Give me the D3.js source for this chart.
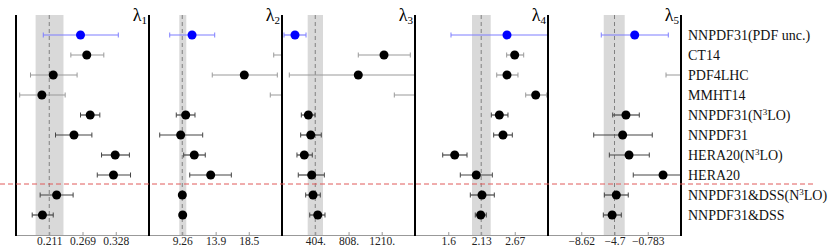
<!DOCTYPE html>
<html>
<head>
<meta charset="utf-8">
<script src="https://cdn.jsdelivr.net/npm/d3@7"></script>
<style>
  body { margin: 0; background: #fff; }
  text { font-family: "Liberation Serif", "DejaVu Serif", serif; }
</style>
</head>
<body>
<div class="chart"></div>
<script>
var svgWidth = 830;
var svgHeight = 252;

// fit names, top to bottom
var models = ["NNPDF31(PDF unc.)", "CT14", "PDF4LHC", "MMHT14", "NNPDF31(N3LO)", "NNPDF31",
  "HERA20(N3LO)", "HERA20", "NNPDF31&DSS(N3LO)", "NNPDF31&DSS"];

// [central, low, high] for each model
var lambda1 = [[0.266, 0.2005, 0.3325], [0.277, 0.249, 0.307], [0.218, 0.178, 0.260], [0.198, 0.159, 0.239],
  [0.283, 0.266, 0.300], [0.2545, 0.222, 0.286], [0.327, 0.303, 0.352], [0.324, 0.2955, 0.354],
  [0.224, 0.195, 0.253], [0.199, 0.181, 0.218]];
var lambda2 = [[10.62, 7.52, 13.77], [29.0, 21.97, 36.0], [17.88, 13.43, 22.47], [28.0, 21.49, 35.0],
  [9.74, 8.43, 11.03], [9.04, 6.13, 12.10], [10.93, 9.46, 12.46], [13.21, 10.30, 16.08],
  [9.27, 9.10, 9.45], [9.32, 9.12, 9.50]];
var lambda3 = [[158, 25, 292], [1238, 926, 1557], [926, 89, 1763], [1800, 1363, 2240],
  [320, 235, 401], [349, 227, 477], [271, 182, 368], [361, 198, 514],
  [377, 288, 465], [434, 337, 522]];
var lambda4 = [[2.545, 1.644, 3.446], [2.669, 2.540, 2.814], [2.545, 2.380, 2.722], [3.007, 2.846, 3.184],
  [2.422, 2.293, 2.561], [2.481, 2.331, 2.631], [1.704, 1.511, 1.902], [2.051, 1.794, 2.309],
  [2.143, 1.955, 2.341], [2.122, 2.035, 2.212]];
var lambda5 = [[-2.32, -6.26, 1.64], [12.0, 9.0, 15.0], [5.0, 1.37, 9.0], [14.0, 11.0, 17.0],
  [-3.35, -4.91, -1.78], [-3.74, -7.15, -0.25], [-2.99, -5.31, -0.60], [1.02, -2.49, 4.5],
  [-4.49, -5.90, -3.08], [-4.98, -6.02, -3.90]];

var lambdaData = [lambda1, lambda2, lambda3, lambda4, lambda5];
var centers = [0.211, 9.26, 404, 2.13, -4.7];
var bands = [[0.187, 0.236], [8.85, 9.82], [312, 498], [1.982, 2.283], [-5.97, -3.50]];
var domains = [[0.1525, 0.3865], [4.64, 23.12], [0.5, 1614], [1.065, 3.205], [-12.54, 3.137]];
var tickValues = [[0.211, 0.2695, 0.328], [9.26, 13.9, 18.5], [404, 808, 1210], [1.6, 2.13, 2.67], [-8.62, -4.7, -0.783]];
var tickLabels = [["0.211", "0.269", "0.328"], ["9.26", "13.9", "18.5"], ["404.", "808.", "1210."],
  ["1.6", "2.13", "2.67"], ["\u22128.62", "\u22124.7", "\u22120.783"]];

var left0 = 16, panelW = 133, topY = 15, bottomY = 235;

var svg = d3.select(".chart")
  .append("svg")
  .attr("width", svgWidth)
  .attr("height", svgHeight);

var y = d3.scalePoint().domain(models).range([35, 215]);

lambdaData.forEach(function (data, i) {
  var x0 = left0 + i * panelW;
  var x = d3.scaleLinear().domain(domains[i]).range([x0, x0 + panelW]);

  svg.append("clipPath").attr("id", "clip" + i)
    .append("rect").attr("x", x0).attr("y", 0).attr("width", panelW).attr("height", svgHeight);

  var g = svg.append("g").attr("clip-path", "url(#clip" + i + ")");

  // uncertainty band and central value
  g.append("rect")
    .attr("x", x(bands[i][0]))
    .attr("y", topY)
    .attr("width", x(bands[i][1]) - x(bands[i][0]))
    .attr("height", bottomY - topY)
    .attr("fill", "#d9d9d9");

  g.append("line")
    .attr("x1", x(centers[i])).attr("x2", x(centers[i]))
    .attr("y1", topY).attr("y2", bottomY)
    .attr("stroke", "#808080")
    .attr("stroke-dasharray", "4,3");

  // axis
  var axis = d3.axisBottom(x)
    .tickValues(tickValues[i])
    .tickFormat(function (d, j) { return tickLabels[i][j]; })
    .tickSizeInner(-3)
    .tickSizeOuter(0)
    .tickPadding(2);
  var ax = svg.append("g")
    .attr("transform", "translate(0," + bottomY + ")")
    .call(axis);
  ax.select(".domain").attr("stroke", "#999");
  ax.selectAll(".tick line").attr("stroke", "#999");
  ax.selectAll(".tick text").attr("font-size", 11.5).attr("fill", "#222")
    .style("font-family", "'Liberation Serif', serif");

  var colorFor = function (j) {
    if (j === 0) return "#7f7fff";
    if (j <= 3) return "#9a9a9a";
    return "#444";
  };

  var rows = g.selectAll(".row")
    .data(data)
    .enter()
    .append("g")
    .attr("transform", function (d, j) { return "translate(0," + y(models[j]) + ")"; });

  rows.append("line")
    .attr("x1", d => x(d[1]))
    .attr("x2", d => x(d[2]))
    .attr("stroke", (d, j) => colorFor(j))
    .attr("stroke-width", 1.2);

  rows.append("line")
    .attr("x1", d => x(d[1])).attr("x2", d => x(d[1]))
    .attr("y1", -2.5).attr("y2", 2.5)
    .attr("stroke", (d, j) => colorFor(j));

  rows.append("line")
    .attr("x1", d => x(d[2])).attr("x2", d => x(d[2]))
    .attr("y1", -2.5).attr("y2", 2.5)
    .attr("stroke", (d, j) => colorFor(j));

  rows.append("circle")
    .attr("cx", d => x(d[0]))
    .attr("r", 4.5)
    .attr("fill", (d, j) => j === 0 ? "#0000ff" : "#000");

  // panel label
  var lab = svg.append("text")
    .attr("x", x0 + panelW - 2)
    .attr("y", 21)
    .attr("text-anchor", "end")
    .attr("font-size", 18);
  lab.append("tspan").text("\u03bb");
  lab.append("tspan").attr("font-size", 11).attr("dy", 3).text(i + 1);
});

// panel frames
var frames = d3.range(6).map(function (k) { return left0 + k * panelW; });
svg.selectAll(".frame")
  .data(frames)
  .enter()
  .append("line")
  .attr("x1", d => d).attr("x2", d => d)
  .attr("y1", topY).attr("y2", bottomY + 1)
  .attr("stroke", "#000")
  .attr("stroke-width", 2);

// separator between the fits
svg.append("line")
  .attr("x1", 0).attr("x2", 814)
  .attr("y1", 184).attr("y2", 184)
  .attr("stroke", "#e05a5a")
  .attr("stroke-dasharray", "5,3");

// model names
var names = svg.selectAll(".name")
  .data(models)
  .enter()
  .append("text")
  .attr("x", 688)
  .attr("y", d => y(d) + 5)
  .attr("font-size", 14)
  .attr("fill", "#111");

names.each(function (d) {
  var t = d3.select(this);
  var parts = d.split("N3LO");
  if (parts.length === 1) { t.text(d); return; }
  t.append("tspan").text(parts[0] + "N");
  t.append("tspan").attr("font-size", 9).attr("dy", -5).text("3");
  t.append("tspan").attr("dy", 5).text("LO" + parts[1]);
});
</script>
</body>
</html>
